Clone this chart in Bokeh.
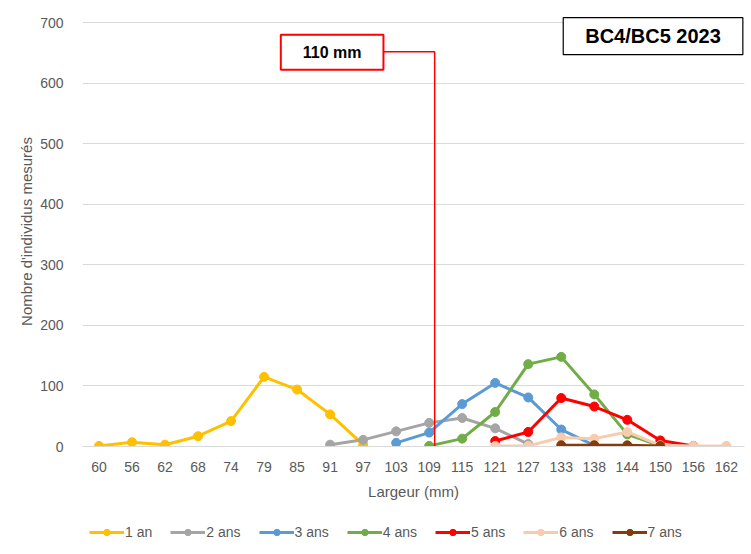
from bokeh.plotting import figure
from bokeh.layouts import column
from bokeh.models import (FixedTicker, Label, BoxAnnotation, Legend, LegendItem,
                          Range1d)
from bokeh.embed import file_html
from bokeh.resources import INLINE

categories = ["60", "56", "62", "68", "74", "79", "85", "91", "97", "103",
              "109", "115", "121", "127", "133", "138", "144", "150", "156", "162"]
N = float("nan")
an1 = [1, 7, 3, 17, 42, 115, 94, 53, 3, N, N, N, N, N, N, N, N, N, N, N]
an2 = [N, N, N, N, N, N, N, 3, 11, 25, 39, 47, 30, 4, N, N, N, N, N, N]
an3 = [N, N, N, N, N, N, N, N, N, 6, 23, 70, 105, 81, 28, 2, N, N, N, N]
an4 = [N, N, N, N, N, N, N, N, N, N, 1, 13, 57, 136, 148, 86, 20, 1, N, N]
an5 = [N, N, N, N, N, N, N, N, N, N, N, N, 9, 24, 80, 66, 44, 10, 1, N]
an6 = [N, N, N, N, N, N, N, N, N, N, N, N, 1, 1, 15, 13, 24, 2, 1, 1]
an7 = [N, N, N, N, N, N, N, N, N, N, N, N, N, N, 2, 2, 2, 1, N, N]
series_names = ["1 an", "2 ans", "3 ans", "4 ans", "5 ans", "6 ans", "7 ans"]
series_values = [an1, an2, an3, an4, an5, an6, an7]
colors = ["#FFC000", "#A5A5A5", "#5B9BD5", "#70AD47", "#FF0000", "#F8CBAD", "#843C0C"]
y_ticks = [0, 100, 200, 300, 400, 500, 600, 700]

threshold_label = "110 mm"
threshold_mm = 110
title_text = "BC4/BC5 2023"

FONT = "Liberation Sans"
GRAY = "#595959"

xs = list(range(len(categories)))
i109 = categories.index("109")
thr_x = i109 + (threshold_mm - 109) / (115 - 109)

W = 746
p = figure(width=W, height=505, output_backend="svg", toolbar_location=None,
           x_range=Range1d(-0.5, 19.55), y_range=Range1d(0, 710),
           min_border_left=82, min_border_right=2, min_border_top=16,
           min_border_bottom=59)
p.outline_line_color = None
p.background_fill_color = "white"
p.border_fill_color = "white"

p.xaxis.ticker = FixedTicker(ticks=xs)
p.xaxis.major_label_overrides = {i: c for i, c in enumerate(categories)}
p.yaxis.ticker = FixedTicker(ticks=y_ticks)
for ax in (p.xaxis[0], p.yaxis[0]):
    ax.major_tick_line_color = None
    ax.minor_tick_line_color = None
    ax.major_label_text_font = FONT
    ax.major_label_text_font_size = "14px"
    ax.major_label_text_color = GRAY
    ax.axis_label_text_font = FONT
    ax.axis_label_text_font_size = "15px"
    ax.axis_label_text_font_style = "normal"
    ax.axis_label_text_color = GRAY
p.yaxis.axis_line_color = None
p.xaxis.axis_line_color = "#D9D9D9"
p.yaxis.major_label_standoff = 13
p.xaxis.major_label_standoff = 9
p.xaxis.axis_label = "Largeur (mm)"
p.xaxis.axis_label_standoff = 8
p.yaxis.axis_label = "Nombre d'individus mesurés"
p.yaxis.axis_label_standoff = 2
p.xgrid.grid_line_color = None
p.ygrid.grid_line_color = "#D9D9D9"
p.ygrid.grid_line_width = 1

for name, vals, col in zip(series_names, series_values, colors):
    p.line(xs, vals, line_color=col, line_width=3)
    p.scatter(xs, vals, size=9, fill_color=col, line_color=col)

# threshold marker
box_l, box_r, box_t, box_b = 5.506, 8.615, 680, 622
conn_y = 652
p.line([box_r, thr_x, thr_x], [conn_y, conn_y, 0], line_color="#FF0000", line_width=1.5)
p.add_layout(BoxAnnotation(left=box_l, right=box_r, top=box_t, bottom=box_b,
                           fill_color="white", fill_alpha=1,
                           line_color="#FF0000", line_alpha=1, line_width=2))
p.add_layout(Label(x=(box_l + box_r) / 2, y=(box_t + box_b) / 2, text=threshold_label,
                   text_font=FONT, text_font_size="16px", text_font_style="bold",
                   text_color="black", text_align="center", text_baseline="middle"))

# title box
t_l, t_r, t_t, t_b = 14.06, 19.5, 708, 647
p.add_layout(BoxAnnotation(left=t_l, right=t_r, top=t_t, bottom=t_b,
                           fill_color="white", fill_alpha=1,
                           line_color="black", line_alpha=1, line_width=1.2))
p.add_layout(Label(x=(t_l + t_r) / 2, y=(t_t + t_b) / 2, text=title_text,
                   text_font=FONT, text_font_size="20px", text_font_style="bold",
                   text_color="black", text_align="center", text_baseline="middle"))

# legend strip: same series drawn off-screen in a second figure, holding the legend
lf = figure(width=W, height=41, output_backend="svg", toolbar_location=None,
            x_range=Range1d(-0.5, 19.55), y_range=Range1d(1000, 1001),
            x_axis_location=None, y_axis_location=None,
            min_border_left=0, min_border_right=0, min_border_top=0,
            min_border_bottom=0)
lf.outline_line_color = None
lf.xgrid.grid_line_color = None
lf.ygrid.grid_line_color = None
items = []
for name, vals, col in zip(series_names, series_values, colors):
    r1 = lf.line(xs, vals, line_color=col, line_width=3)
    r2 = lf.scatter(xs, vals, size=9, fill_color=col, line_color=col)
    items.append(LegendItem(label=name, renderers=[r1, r2]))
legend = Legend(items=items, orientation="horizontal", location=(7, 6),
                glyph_width=35, glyph_height=16, label_standoff=1, spacing=18,
                padding=0, margin=0, border_line_color=None,
                background_fill_alpha=0,
                label_text_font=FONT, label_text_font_size="14px",
                label_text_color=GRAY)
lf.add_layout(legend, "center")

layout = column(p, lf, spacing=0)
open("out.html", "w").write(file_html(layout, INLINE))
